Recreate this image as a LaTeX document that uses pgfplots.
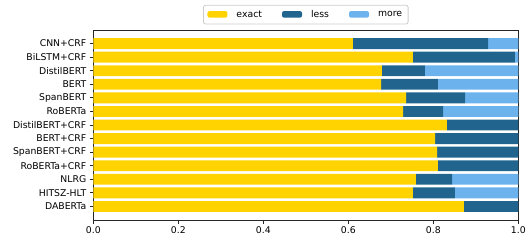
\documentclass[border=0pt]{standalone}
\usepackage{fontspec}
\setmainfont{DejaVu Sans}
\usepackage{pgfplots}
\pgfplotsset{compat=1.18}
\definecolor{cexact}{RGB}{255,211,0}
\definecolor{cless}{RGB}{33,101,142}
\definecolor{cmore}{RGB}{108,178,237}
\begin{document}
\begin{tikzpicture}[font=\fontsize{9.3}{11}\selectfont]
\begin{axis}[
  scale only axis,
  width=425pt, height=190pt,
  xbar stacked,
  bar width=10.86pt,
  xmin=0, xmax=1,
  ymin=-1, ymax=13,
  ytick={0,...,12},
  yticklabels={DABERTa,HITSZ-HLT,NLRG,RoBERTa+CRF,SpanBERT+CRF,BERT+CRF,DistilBERT+CRF,RoBERTa,SpanBERT,BERT,DistilBERT,BiLSTM+CRF,CNN+CRF},
  xtick={0,0.2,0.4,0.6,0.8,1},
  tick pos=left,
  tick align=outside,
  major tick length=3.5pt,
  tick style={line width=0.8pt, color=black!85},
  axis line style={line width=0.8pt, color=black!85},
  /pgf/number format/.cd, fixed, fixed zerofill, precision=1, assume math mode=true,
  /pgfplots/.cd,
  legend columns=3,
  legend style={at={(0.5,1)}, anchor=south, yshift=5.7pt,
    draw=black!20, rounded corners=2pt, line width=0.8pt, fill=white,
    inner xsep=4pt, inner ysep=3pt,
    font=\fontsize{9.3}{11}\selectfont,
    /tikz/every odd column/.append style={column sep=7pt},
    /tikz/every even column/.append style={column sep=18pt}},
  legend image code/.code={\fill[#1] (0pt,-3pt) rectangle (20pt,3.5pt);},
]
\addplot[fill=cexact, draw=none] coordinates {
(0.872,0) (0.752,1) (0.759,2) (0.811,3) (0.809,4) (0.804,5) (0.832,6)
(0.729,7) (0.736,8) (0.677,9) (0.679,10) (0.752,11) (0.611,12)};
\addplot[fill=cless, draw=none] coordinates {
(0.128,0) (0.099,1) (0.085,2) (0.189,3) (0.191,4) (0.196,5) (0.168,6)
(0.094,7) (0.139,8) (0.134,9) (0.101,10) (0.240,11) (0.318,12)};
\addplot[fill=cmore, draw=none] coordinates {
(0,0) (0.149,1) (0.156,2) (0,3) (0,4) (0,5) (0,6)
(0.177,7) (0.125,8) (0.189,9) (0.220,10) (0.008,11) (0.071,12)};
\legend{exact,less,more}
\end{axis}
\pgfresetboundingbox
\useasboundingbox (current axis.south west) ++(-93.3pt,-24pt) rectangle ++(532pt,244pt);
\end{tikzpicture}
\end{document}
